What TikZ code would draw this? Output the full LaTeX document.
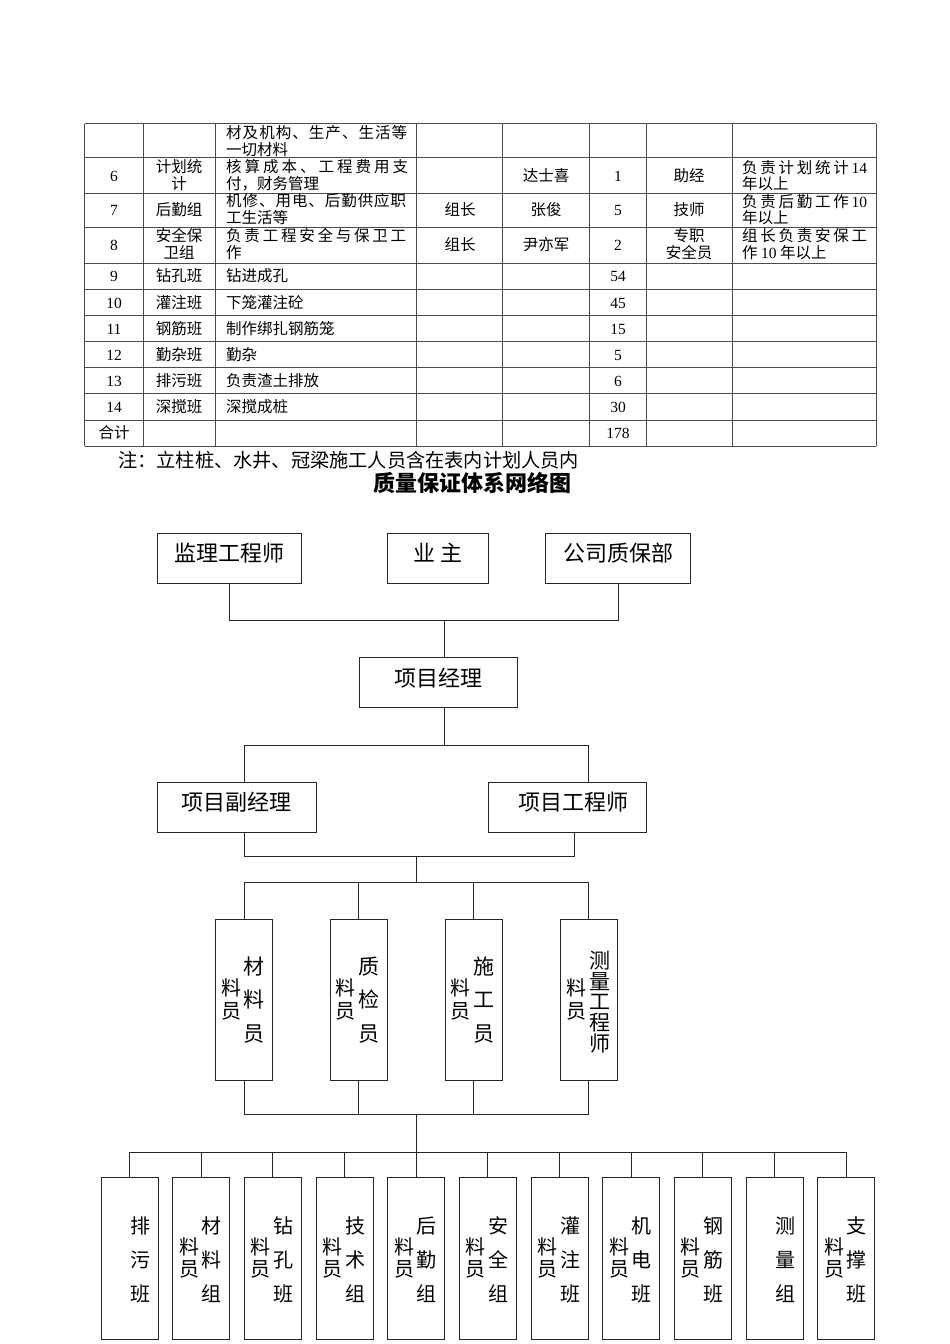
\documentclass[tikz,border=0pt]{standalone}
\usepackage{fontspec}
\setmainfont{Noto Sans CJK SC}
\newfontfamily\num{Liberation Serif}
\usetikzlibrary{calc}
\newcommand\sbx[2]{\makebox[#1][s]{#2}}
\tikzset{
  tline/.style={line width=0.8pt, draw=black!70},
  cell/.style={inner sep=0pt, anchor=base, font=\fontsize{15.5}{17}\selectfont},
  cellw/.style={cell, anchor=base west},
  box/.style={draw=black!85, line width=1pt, inner sep=0pt},
  hbox/.style={box, font=\fontsize{22}{24}\selectfont, text height=17pt, text depth=10pt},
  vbox/.style={box, minimum width=57pt, minimum height=161.4pt},
  bbox/.style={box, minimum width=57pt, minimum height=161.6pt},
  conn/.style={line width=1pt, draw=black!85},
  vtm/.style={inner sep=0pt, align=center, font=\fontsize{21}{33.3}\selectfont},
  vtt/.style={inner sep=0pt, align=center, font=\fontsize{21}{20.8}\selectfont},
  vtb/.style={inner sep=0pt, align=center, font=\fontsize{20}{34.2}\selectfont},
  vsm/.style={inner sep=0pt, align=center, font=\fontsize{20}{22.4}\selectfont},
}
\newcommand\ct[4]{\node[cell] (#1) at (#2,#3+5.9) {#4};}
\newcommand\cw[4]{\node[cellw] (#1) at (#2,#3+5.9) {#4};}
\newcommand\bottombox[4]{%
  \node[bbox] (#1) at ({129.5+71.67*#2},1258.5) {};
  \node[vtb] (#1t) at ($(#1.center)+(10.5,1.2)$) {#3};
  \ifnum#4=1 \node[vsm] (#1s) at ($(#1.center)+(-12,-0.5)$) {料\\员};\fi
}
\begin{document}
\begin{tikzpicture}[x=1pt,y=-1pt]
\fill[white] (0,0) rectangle (950,1344);
\path[use as bounding box] (0,0) rectangle (950,1344);

% ---------------- table ----------------
\foreach \yy in {123.5,157.5,193,227,263,289.1,315.3,341.4,367.6,393.7,419.9,446}
  \draw[tline] (84.7,\yy) -- (876,\yy);
\foreach \xx in {84.7,143,215,416.7,502.7,589,646.5,732,876}
  \draw[tline] (\xx,123.5) -- (\xx,446);

% row 0
\cw{r0c}{226}{133}{\sbx{181pt}{材\hfill 及\hfill 机\hfill 构\hfill 、\hfill 生\hfill 产\hfill 、\hfill 生\hfill 活\hfill 等}}
\cw{r0d}{226}{149.5}{一切材料}
% row 6
\ct{r6a}{114}{176}{\num 6}
\ct{r6b}{179}{167}{计划统}
\ct{r6b2}{179}{184}{计}
\cw{r6c}{226}{167}{\sbx{182pt}{核\hfill 算\hfill 成\hfill 本\hfill 、\hfill 工\hfill 程\hfill 费\hfill 用\hfill 支}}
\cw{r6c2}{226}{184}{付，财务管理}
\ct{r6e}{546}{176}{达士喜}
\ct{r6f}{618}{176}{\num 1}
\ct{r6g}{689}{176}{助经}
\cw{r6h}{742}{168}{\sbx{125pt}{负\hfill 责\hfill 计\hfill 划\hfill 统\hfill 计\hfill {\num 14}}}
\cw{r6h2}{742}{184}{年以上}
% row 7
\ct{r7a}{114}{210}{\num 7}
\ct{r7b}{179}{210}{后勤组}
\cw{r7c}{226}{201}{\sbx{180pt}{机\hfill 修\hfill 、\hfill 用\hfill 电\hfill 、\hfill 后\hfill 勤\hfill 供\hfill 应\hfill 职}}
\cw{r7c2}{226}{218}{工生活等}
\ct{r7d}{460}{210}{组长}
\ct{r7e}{546}{210}{张俊}
\ct{r7f}{618}{210}{\num 5}
\ct{r7g}{689}{210}{技师}
\cw{r7h}{742}{202}{\sbx{125pt}{负\hfill 责\hfill 后\hfill 勤\hfill 工\hfill 作\hfill {\num 10}}}
\cw{r7h2}{742}{218}{年以上}
% row 8
\ct{r8a}{114}{245}{\num 8}
\ct{r8b}{179}{236}{安全保}
\ct{r8b2}{179}{253}{卫组}
\cw{r8c}{226}{236}{\sbx{180pt}{负\hfill 责\hfill 工\hfill 程\hfill 安\hfill 全\hfill 与\hfill 保\hfill 卫\hfill 工}}
\cw{r8c2}{226}{253}{作}
\ct{r8d}{460}{245}{组长}
\ct{r8e}{546}{245}{尹亦军}
\ct{r8f}{618}{245}{\num 2}
\ct{r8g}{689}{236}{专职}
\ct{r8g2}{689}{253}{安全员}
\cw{r8h}{742}{236}{\sbx{125pt}{组\hfill 长\hfill 负\hfill 责\hfill 安\hfill 保\hfill 工}}
\cw{r8h2}{742}{253}{作 {\num 10} 年以上}
% rows 9-14
\ct{r9a}{114}{276}{\num 9}
\ct{r9b}{179}{276}{钻孔班}
\cw{r9c}{226}{276}{钻进成孔}
\ct{r9f}{618}{276}{\num 54}
\ct{r10a}{114}{302.2}{\num 10}
\ct{r10b}{179}{302.2}{灌注班}
\cw{r10c}{226}{302.2}{下笼灌注砼}
\ct{r10f}{618}{302.2}{\num 45}
\ct{r11a}{114}{328.3}{\num 11}
\ct{r11b}{179}{328.3}{钢筋班}
\cw{r11c}{226}{328.3}{制作绑扎钢筋笼}
\ct{r11f}{618}{328.3}{\num 15}
\ct{r12a}{114}{354.5}{\num 12}
\ct{r12b}{179}{354.5}{勤杂班}
\cw{r12c}{226}{354.5}{勤杂}
\ct{r12f}{618}{354.5}{\num 5}
\ct{r13a}{114}{380.6}{\num 13}
\ct{r13b}{179}{380.6}{排污班}
\cw{r13c}{226}{380.6}{负责渣土排放}
\ct{r13f}{618}{380.6}{\num 6}
\ct{r14a}{114}{406.8}{\num 14}
\ct{r14b}{179}{406.8}{深搅班}
\cw{r14c}{226}{406.8}{深搅成桩}
\ct{r14f}{618}{406.8}{\num 30}
\ct{rsa}{114}{433}{合计}
\ct{rsf}{618}{433}{\num 178}

% note and title
\node[inner sep=0pt, anchor=base west, font=\fontsize{19.2}{21}\selectfont] (note) at (118,467.3) {注：立柱桩、水井、冠梁施工人员含在表内计划人员内};
\node[inner sep=0pt, anchor=base, font=\fontsize{22}{24}\selectfont\bfseries] (title) at (472,491.4) {质量保证体系网络图};

% ---------------- chart ----------------
\node[hbox, minimum width=144pt, minimum height=50pt] (jl) at (229.7,558.3) {监理工程师};
\node[hbox, minimum width=100.7pt, minimum height=50pt] (yz) at (438.3,558.3) {业 主};
\node[hbox, minimum width=144.6pt, minimum height=50pt] (gs) at (618.1,558.3) {公司质保部};
\node[hbox, minimum width=158.2pt, minimum height=50pt] (pm) at (438.6,682.7) {项目经理};
\node[hbox, minimum width=158.7pt, minimum height=49.7pt] (dpm) at (236.7,807.2) {项目副经理};
\node[hbox, minimum width=158.4pt, minimum height=49.7pt] (pe) at (567.5,807.2) {\hspace{11pt}项目工程师};

\node[vbox] (m1) at (244.2,1000) {};
\node[vbox] (m2) at (358.9,1000) {};
\node[vbox] (m3) at (473.7,1000) {};
\node[vbox] (m4) at (588.9,1000) {};
\node[vtm] (m1t) at ($(m1.center)+(10,0)$) {材\\料\\员};
\node[vtm] (m2t) at ($(m2.center)+(10,0)$) {质\\检\\员};
\node[vtm] (m3t) at ($(m3.center)+(10,0)$) {施\\工\\员};
\node[vtt] (m4t) at ($(m4.center)+(11,2)$) {测\\量\\工\\程\\师};
\node[vsm] (m1s) at ($(m1.center)+(-13,-0.5)$) {料\\员};
\node[vsm] (m2s) at ($(m2.center)+(-13,-0.5)$) {料\\员};
\node[vsm] (m3s) at ($(m3.center)+(-13,-0.5)$) {料\\员};
\node[vsm] (m4s) at ($(m4.center)+(-12,-0.5)$) {料\\员};

\bottombox{b1}{0}{排\\污\\班}{0}
\bottombox{b2}{1}{材\\料\\组}{1}
\bottombox{b3}{2}{钻\\孔\\班}{1}
\bottombox{b4}{3}{技\\术\\组}{1}
\bottombox{b5}{4}{后\\勤\\组}{1}
\bottombox{b6}{5}{安\\全\\组}{1}
\bottombox{b7}{6}{灌\\注\\班}{1}
\bottombox{b8}{7}{机\\电\\班}{1}
\bottombox{b9}{8}{钢\\筋\\班}{1}
\bottombox{b10}{9}{测\\量\\组}{0}
\bottombox{b11}{10}{支\\撑\\班}{1}

% connectors
\coordinate (j1) at (444.7,620.7);
\draw[conn] (jl.south) |- (j1) -| (gs.south);
\draw[conn] (j1) -- (j1 |- pm.north);
\coordinate (j2) at (444.7,745);
\draw[conn] (j1 |- pm.south) -- (j2);
\coordinate (j2l) at (244.3,745);
\coordinate (j2r) at (588.7,745);
\draw[conn] (j2l |- dpm.north) -- (j2l) -- (j2r) -- (j2r |- pe.north);
\coordinate (j3l) at (244.3,856.7);
\coordinate (j3r) at (574.3,856.7);
\coordinate (j3c) at (416.7,856.7);
\coordinate (j4c) at (416.7,882.3);
\draw[conn] (j3l |- dpm.south) -- (j3l) -- (j3r) -- (j3r |- pe.south);
\draw[conn] (j3c) -- (j4c);
\draw[conn] (m1.north) |- (j4c) -| (m4.north);
\draw[conn] (m2.north) -- (m2.north |- j4c);
\draw[conn] (m3.north) -- (m3.north |- j4c);
\coordinate (j5c) at (416.3,1114.5);
\coordinate (j6c) at (416.3,1152.5);
\draw[conn] (m1.south) |- (j5c) -| (m4.south);
\draw[conn] (m2.south) -- (m2.south |- j5c);
\draw[conn] (m3.south) -- (m3.south |- j5c);
\draw[conn] (j5c) -- (j6c);
\draw[conn] (b1.north) |- (j6c) -| (b11.north);
\foreach \b in {b2,b3,b4,b5,b6,b7,b8,b9,b10}
  \draw[conn] (\b.north) -- (\b.north |- j6c);
\end{tikzpicture}
\end{document}
